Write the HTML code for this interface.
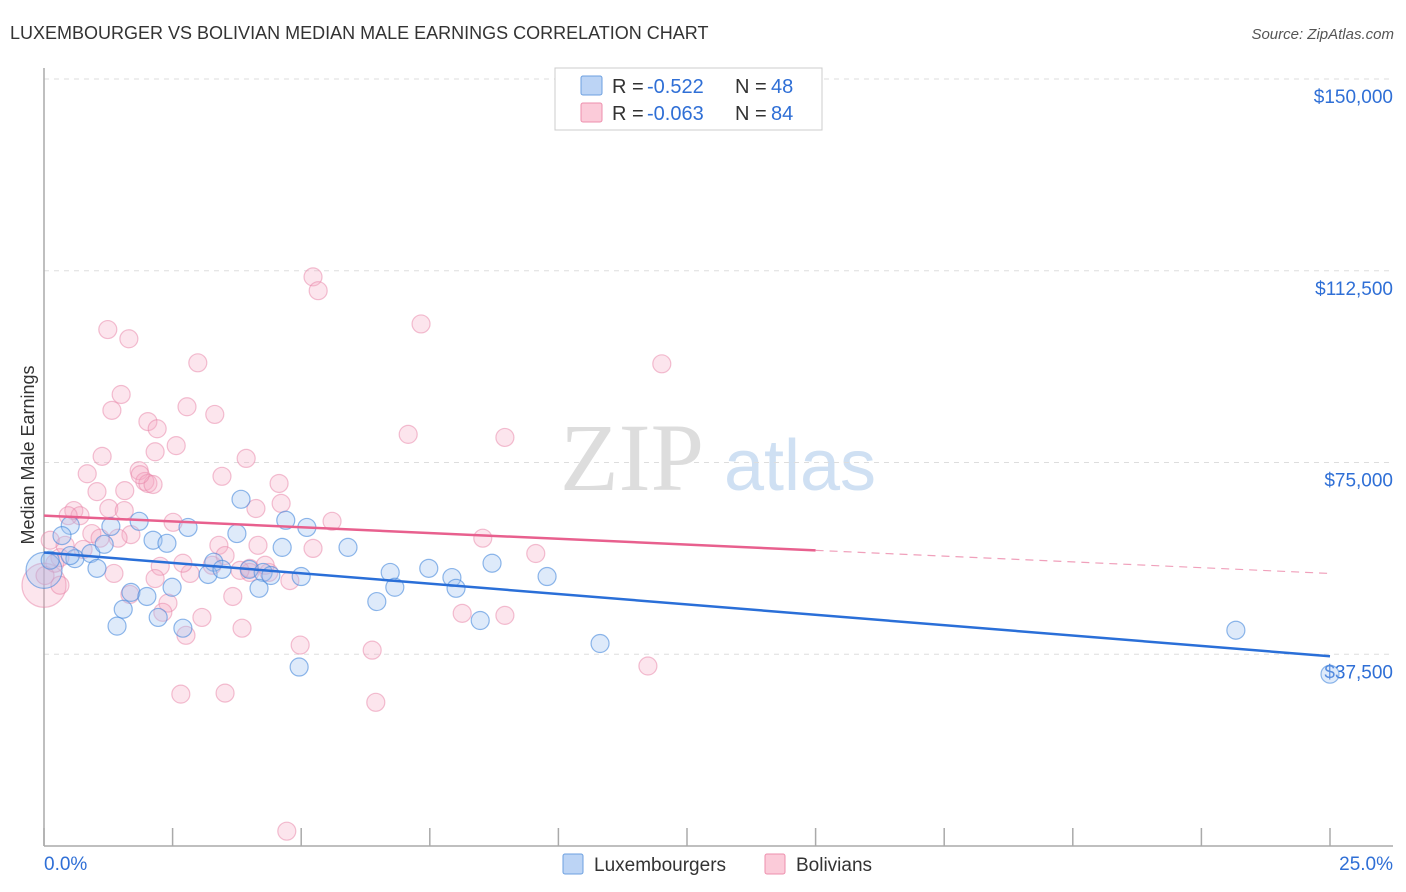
<!DOCTYPE html>
<html><head><meta charset="utf-8"><style>
body{margin:0;background:#fff;font-family:"Liberation Sans",Arial,sans-serif;}
svg{display:block}
</style></head><body>
<svg id="chart" width="1406" height="892">
<text x="10" y="39" font-size="18" fill="#333">LUXEMBOURGER VS BOLIVIAN MEDIAN MALE EARNINGS CORRELATION CHART</text>
<text x="1394" y="39" font-size="15" fill="#555" font-style="italic" text-anchor="end">Source: ZipAtlas.com</text>
<text transform="translate(34,455) rotate(-90)" font-size="18" fill="#333" text-anchor="middle">Median Male Earnings</text>
<g id="watermark">
<text x="632" y="490" font-size="96" font-family="Liberation Serif,serif" fill="#ddd" text-anchor="middle">ZIP</text>
<text x="800" y="490" font-size="72" fill="#cfe0f3" text-anchor="middle">atlas</text>
</g>
<g id="grid"></g><g id="axes"></g><g id="marks"></g>
<g>
<rect x="555" y="68" width="267" height="62" fill="#fff" stroke="#ccc"/>
<rect x="581" y="76" width="21" height="19" fill="#bcd4f5" stroke="#6c9fe0" rx="2"/>
<text x="612" y="93" font-size="20" fill="#333">R = <tspan x="647" fill="#2f6fd6">-0.522</tspan><tspan x="735">N = </tspan><tspan x="771" fill="#2f6fd6">48</tspan></text>
<rect x="581" y="103" width="21" height="19" fill="#fbcbd9" stroke="#ee8fad" rx="2"/>
<text x="612" y="120" font-size="20" fill="#333">R = <tspan x="647" fill="#2f6fd6">-0.063</tspan><tspan x="735">N = </tspan><tspan x="771" fill="#2f6fd6">84</tspan></text>
</g>
<g>
<rect x="563" y="854" width="20" height="20" fill="#bcd4f5" stroke="#6c9fe0" rx="2"/>
<text x="594" y="871" font-size="19" fill="#333">Luxembourgers</text>
<rect x="765" y="854" width="20" height="20" fill="#fbcbd9" stroke="#ee8fad" rx="2"/>
<text x="796" y="871" font-size="19" fill="#333">Bolivians</text>
</g>
</svg>
<script>
const yTicks=[37500,75000,112500,150000];
const yTickLabels=["$37,500","$75,000","$112,500","$150,000"];
const xTickLabels=["0.0%","25.0%"];
const luxX=[0.51,0.35,0.60,0.91,1.03,1.17,1.30,1.85,2.12,2.39,2.80,3.30,3.19,3.46,3.83,3.75,3.99,4.26,4.18,4.41,4.63,4.70,5.00,5.11,5.91,6.73,6.82,6.47,7.48,7.93,8.01,8.48,8.71,9.78,10.81,4.96,1.42,1.54,1.69,2.00,2.22,2.49,2.70,23.17,25.0,0.0,0.12,0.51];
const luxY=[62.7,60.7,56.2,57.2,54.3,59.0,62.5,63.5,59.8,59.2,62.3,55.5,53.1,54.1,67.8,61.1,54.1,53.5,50.4,52.9,58.4,63.7,52.7,62.3,58.4,53.5,50.6,47.8,54.3,52.5,50.4,44.1,55.3,52.7,39.6,35.0,43.0,46.3,49.6,48.8,44.7,50.6,42.6,42.2,33.6,53.9,55.9,56.8];
const luxSize=[1,1,1,1,1,1,1,1,1,1,1,1,1,1,1,1,1,1,1,1,1,1,1,1,1,1,1,1,1,1,1,1,1,1,1,1,1,1,1,1,1,1,1,1,1,2,1,1];
const bolX=[1.24,1.65,2.99,1.32,1.50,2.02,2.20,2.57,2.16,2.78,3.32,3.93,3.46,1.85,1.96,2.02,2.12,0.84,1.13,1.03,0.58,0.70,1.26,1.56,0.93,1.69,2.51,4.57,4.61,5.60,5.23,5.33,7.33,7.08,8.96,12.01,4.12,3.40,4.16,5.23,8.53,9.56,2.26,2.84,2.70,4.00,4.37,4.78,1.36,0,0.31,0.41,0.12,1.67,2.41,2.31,2.76,3.07,3.67,3.85,4.98,6.38,8.13,8.96,11.74,2.66,3.52,6.45,4.72,0.31,0.76,1.09,0.02,0.21,0.47,1.57,4.00,3.27,4.30,1.87,1.44,2.16,3.52,3.81];
const bolY=[101.0,99.2,94.5,85.2,88.3,83.0,81.6,78.3,77.1,85.9,84.4,75.8,72.3,73.4,71.3,70.9,70.7,72.8,76.2,69.3,65.6,64.6,66.0,65.6,61.1,60.9,63.3,70.9,67.0,63.5,111.3,108.6,102.1,80.5,79.9,94.3,66.0,58.8,58.8,58.2,60.2,57.2,54.7,53.3,55.3,54.3,53.5,51.9,53.3,51.0,56.4,58.8,59.8,49.2,47.5,45.7,41.2,44.7,48.8,42.6,39.3,38.3,45.5,45.1,35.2,29.7,29.9,28.1,2.9,51.0,58.0,60.2,52.9,55.3,64.6,69.5,53.5,54.9,54.9,72.6,60.2,52.3,56.8,53.9];
const luxTrend=[57.4,37.1];
const bolTrend=[64.6,53.3];
const bolSolidEnd=15;
const NS='http://www.w3.org/2000/svg';
const X0=44,X1=1330,YB=846,YT=79;
const xs=v=>X0+(v/25)*(X1-X0);
const ys=v=>YB-(v/150000)*(YB-YT);
function mk(t,a,p){const e=document.createElementNS(NS,t);for(const k in a)e.setAttribute(k,a[k]);p.appendChild(e);return e;}
const grid=document.getElementById('grid'),axes=document.getElementById('axes'),marks=document.getElementById('marks');
yTicks.forEach((v,i)=>{
 const l=mk('line',{x1:X0,x2:1393,y1:ys(v),y2:ys(v),stroke:'#ddd','stroke-dasharray':'5,5'},grid);
 
 
 const t=mk('text',{x:1393,y:ys(v)+24,'font-size':19,fill:'#2f6fd6','text-anchor':'end'},axes);
 t.textContent=yTickLabels[i];
 
 
});
const topGrid=mk('line',{x1:X0,x2:1393,y1:YT,y2:YT,stroke:'#ddd','stroke-dasharray':'5,5'},grid);


const ya=mk('line',{x1:X0,x2:X0,y1:68,y2:YB,stroke:'#aaa','stroke-width':1.5},axes);


const xa=mk('line',{x1:X0,x2:1393,y1:YB,y2:YB,stroke:'#aaa','stroke-width':1.5},axes);


for(let i=0;i<=10;i++){const v=i*2.5;
 const tk=mk('line',{x1:xs(v),x2:xs(v),y1:828,y2:YB,stroke:'#aaa','stroke-width':1.5},axes);
 
 }
[[0,'start'],[25,'end']].forEach((d,i)=>{
 const t=mk('text',{x:i?1393:X0,y:870,'font-size':19,fill:'#2f6fd6','text-anchor':d[1]},axes);
 t.textContent=xTickLabels[i];
 
 });
bolX.forEach((x,i)=>{
 const r=(x===0)?22:9;
 const c=mk('circle',{cx:xs(x),cy:ys(bolY[i]*1000),r:r,fill:'rgba(246,170,196,0.3)',stroke:'rgba(232,130,166,0.5)','stroke-width':1.2},marks);
 
 });
luxX.forEach((x,i)=>{
 const r=luxSize[i]>1?18:9;
 const c=mk('circle',{cx:xs(x),cy:ys(luxY[i]*1000),r:r,fill:'rgba(160,196,240,0.35)',stroke:'rgba(70,136,220,0.6)','stroke-width':1.2},marks);
 
 });
const bt=v=>bolTrend[0]+(bolTrend[1]-bolTrend[0])*v/25;
const pl=mk('line',{x1:xs(0),y1:ys(bt(0)*1000),x2:xs(bolSolidEnd),y2:ys(bt(bolSolidEnd)*1000),stroke:'#e8608e','stroke-width':2.5},marks);


const pd=mk('line',{x1:xs(bolSolidEnd),y1:ys(bt(bolSolidEnd)*1000),x2:xs(25),y2:ys(bt(25)*1000),stroke:'#f0a0bb','stroke-width':1.2,'stroke-dasharray':'8,6'},marks);


const bl=mk('line',{x1:xs(0),y1:ys(luxTrend[0]*1000),x2:xs(25),y2:ys(luxTrend[1]*1000),stroke:'#2a6fd8','stroke-width':2.5},marks);


</script>
</body></html>
